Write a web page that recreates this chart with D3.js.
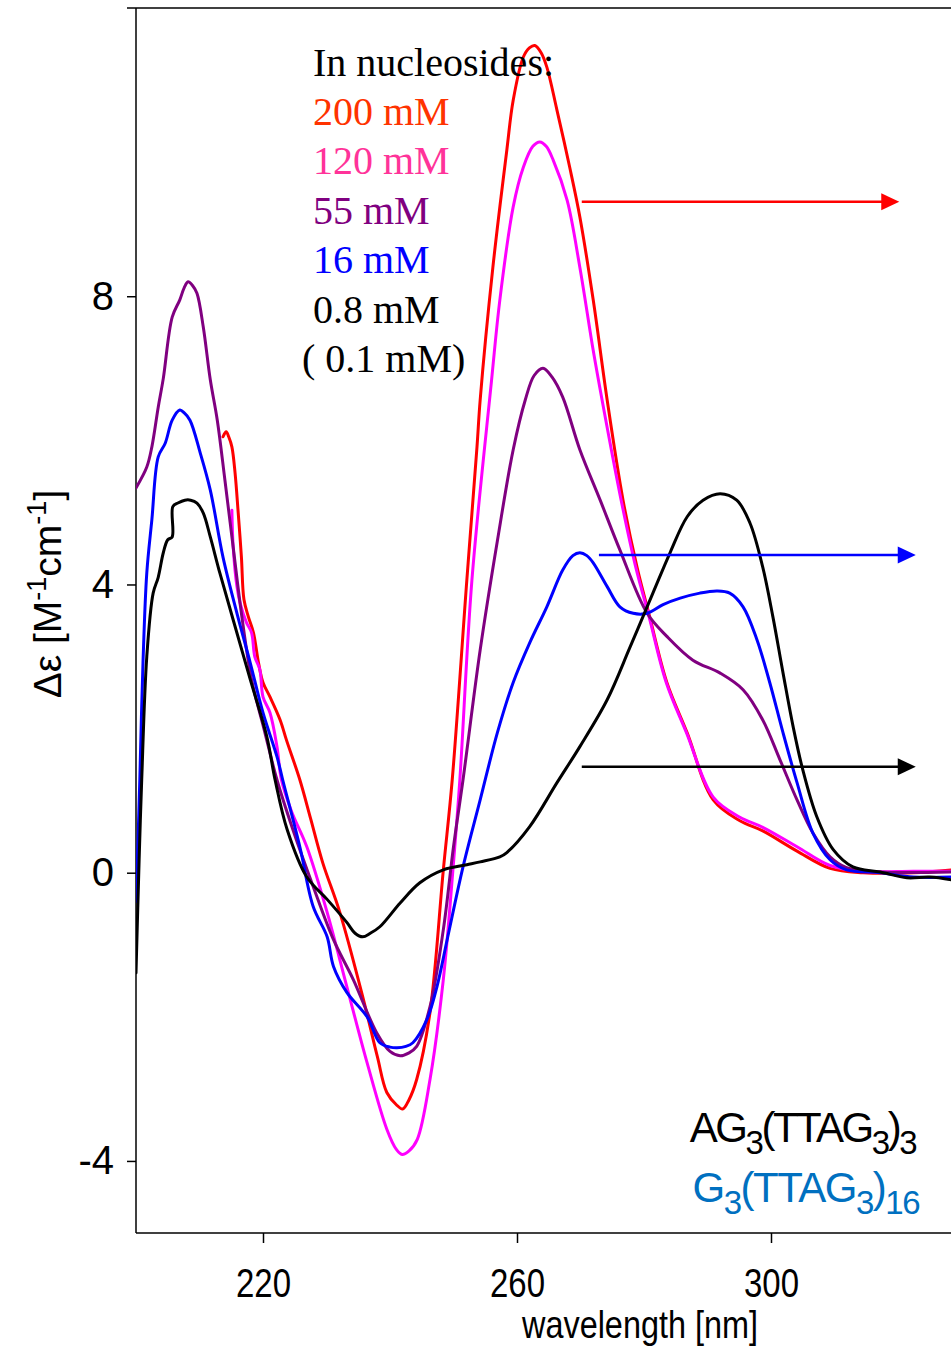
<!DOCTYPE html>
<html>
<head>
<meta charset="utf-8">
<script src="https://cdn.jsdelivr.net/npm/d3@7"></script>
<style>
  html, body { margin: 0; padding: 0; background: #fff; }
  svg { display: block; }
</style>
</head>
<body>
<svg id="chart" width="951" height="1349"></svg>
<script>
// ---------- DATA (wavelength nm, delta-epsilon) ----------
const xTicks = [220, 260, 300];
const yTicks = [-4, 0, 4, 8];

const series200 = [
  [213.7,6.05],[214.2,6.12],[214.6,6.05],[215.1,5.91],[215.6,5.55],[216.1,4.99],[216.6,4.38],
  [217.0,3.79],[217.7,3.55],[218.5,3.33],[219.3,2.91],[220.0,2.64],[221.1,2.44],[222.7,2.12],
  [223.7,1.84],[225.8,1.29],[227.5,0.75],[229.4,0.14],[232.1,-0.55],[235.7,-1.72],[238.0,-2.55],
  [239.5,-3.05],[241.0,-3.22],[242.0,-3.28],[243.0,-3.15],[244.2,-2.87],[246.3,-1.94],[248.4,0.04],
  [249.8,1.29],[252.1,4.06],[253.7,5.91],[254.2,6.56],[256.2,8.40],[258.4,10.03],[259.4,10.72],
  [261.0,11.32],[262.0,11.45],[262.8,11.48],[263.8,11.38],[264.7,11.18],[266.3,10.58],[268.3,9.79],
  [269.9,9.10],[272.0,7.95],[274.2,6.56],[276.7,5.17],[278.9,4.24],[280.9,3.55],[283.6,2.64],
  [286.8,1.94],[290.9,1.01],[295.1,0.72],[298.7,0.58],[304.1,0.30],[309.3,0.06],[314.5,0.0],
  [322.4,0.0],[328.5,0.04]
];

const series120 = [
  [215.1,5.03],[215.3,4.53],[215.9,3.97],[216.4,3.74],[217.4,3.47],[218.2,3.33],[218.7,3.00],
  [219.5,2.82],[220.0,2.44],[221.1,2.22],[222.2,1.75],[222.9,1.29],[224.5,0.85],[226.9,0.36],
  [230.1,-0.55],[233.2,-1.58],[236.4,-2.64],[239.5,-3.56],[241.0,-3.84],[241.9,-3.91],[243.0,-3.86],
  [244.3,-3.70],[246.3,-2.87],[248.4,-1.48],[250.0,0.14],[251.0,1.29],[252.9,4.06],[256.0,6.84],
  [257.3,7.95],[259.4,9.24],[261.0,9.79],[262.5,10.08],[263.6,10.14],[264.6,10.08],[265.7,9.89],
  [267.9,9.33],[269.9,8.40],[272.0,7.25],[273.4,6.56],[276.4,5.17],[278.7,4.24],[280.8,3.55],
  [283.5,2.64],[286.7,1.94],[290.9,1.05],[295.1,0.77],[298.7,0.63],[304.1,0.36],[309.3,0.10],
  [314.5,0.02],[322.4,0.02],[328.5,0.02]
];

const series55 = [
  [200.0,5.34],[201.7,5.63],[202.5,5.91],[203.5,6.46],[204.3,6.86],[205.7,7.71],[206.9,7.95],
  [207.6,8.12],[208.2,8.20],[208.9,8.15],[209.6,8.04],[210.6,7.57],[211.7,6.84],[212.8,6.28],
  [214.0,5.45],[215.3,4.52],[216.6,3.60],[218.2,2.68],[220.2,1.98],[222.2,1.29],[224.7,0.60],
  [227.9,-0.19],[231.1,-0.93],[234.2,-1.48],[237.9,-2.22],[240.0,-2.48],[241.6,-2.54],
  [243.0,-2.50],[244.2,-2.41],[246.3,-1.86],[248.4,-0.79],[250.0,0.36],[251.5,1.29],
  [254.2,3.09],[256.9,4.60],[259.4,5.87],[261.3,6.56],[262.7,6.90],
  [264.1,7.00],[265.5,6.88],[267.2,6.60],[269.9,5.87],[273.1,5.17],[276.2,4.48],[280.5,3.60],
  [283.6,3.28],[287.7,2.95],[292.0,2.77],[295.6,2.54],[298.7,2.12],[301.4,1.57],[304.1,1.01],
  [306.6,0.55],[309.3,0.22],[311.9,0.07],[317.2,0.01],[328.5,0.01]
];

const series16 = [
  [200.0,-0.40],[200.3,0.40],[200.6,1.29],[201.1,2.91],[201.7,4.16],[202.5,4.90],[203.5,5.77],
  [204.6,5.96],[205.7,6.28],[206.9,6.42],[207.6,6.38],[208.5,6.28],[210.1,5.83],[211.7,5.31],
  [213.7,4.38],[215.9,3.60],[218.0,2.91],[220.0,2.22],[222.2,1.61],[223.1,1.29],[225.8,0.36],
  [227.9,-0.47],[230.1,-0.89],[231.1,-1.30],[233.2,-1.66],[236.4,-2.00],[238.4,-2.36],[240.0,-2.42],
  [241.1,-2.43],[242.5,-2.41],[243.6,-2.36],[245.8,-2.04],[247.4,-1.58],[249.0,-0.93],[251.5,0.08],
  [254.2,1.01],[256.9,1.94],[259.4,2.64],[262.0,3.19],[264.7,3.69],[267.2,4.20],[268.8,4.40],
  [269.9,4.44],[271.0,4.40],[272.0,4.30],[274.2,3.97],[276.2,3.69],[278.3,3.60],[280.5,3.60],
  [283.0,3.72],[285.7,3.81],[288.8,3.88],[291.5,3.91],[293.5,3.88],[295.6,3.69],[297.8,3.23],
  [299.8,2.64],[301.9,1.94],[304.1,1.25],[306.6,0.55],[309.3,0.18],[311.9,0.04],[317.2,0.0],
  [322.4,-0.06],[328.5,-0.06]
];

const series08 = [
  [200.0,-1.39],[200.5,0.20],[200.9,1.29],[201.7,3.00],[202.7,3.88],[203.5,4.10],[204.3,4.44],
  [205.0,4.62],[205.7,4.66],[205.8,5.08],[206.6,5.13],[207.7,5.17],[208.6,5.17],[209.6,5.13],
  [210.6,4.99],[211.7,4.66],[213.2,4.16],[215.3,3.51],[218.0,2.68],[220.6,1.89],[221.9,1.29],
  [223.8,0.60],[226.9,-0.06],[230.1,-0.37],[233.2,-0.69],[234.5,-0.84],[235.7,-0.89],[236.9,-0.84],
  [238.4,-0.75],[241.6,-0.42],[244.7,-0.14],[248.4,0.04],[252.1,0.11],[254.2,0.15],[257.3,0.22],
  [258.4,0.28],[262.0,0.64],[266.3,1.25],[269.9,1.75],[274.2,2.40],[277.8,3.13],[281.4,3.88],
  [284.1,4.44],[286.8,4.94],[289.3,5.17],[292.0,5.26],[294.6,5.17],[296.7,4.85],[298.7,4.24],
  [300.3,3.55],[301.9,2.77],[303.5,2.02],[305.0,1.43],[307.2,0.78],[309.8,0.32],[312.9,0.08],
  [317.2,0.01],[321.4,-0.07],[325.0,-0.06],[328.5,-0.10]
];

const seriesNames  = ["200 mM", "120 mM", "55 mM", "16 mM", "0.8 mM"];
const seriesData   = [series200, series120, series55, series16, series08];
const lineColors   = ["#FF0000", "#FF00FF", "#800080", "#0000FF", "#000000"];
const legendColors = ["#FF3300", "#FF3399", "#800080", "#0000FF", "#000000"];

// arrows: start wavelength, end wavelength, value
const arrowStart = [270.2, 272.9, 270.2];
const arrowEnd   = [320.2, 322.8, 322.8];
const arrowValue = [9.31, 4.41, 1.47];
const arrowColors = ["#FF0000", "#0000FF", "#000000"];

// ---------- LAYOUT ----------
const svg = d3.select("#chart");
const mLeft = 136, mTop = 8, mBottom = 1233, mRight = 951;

const x = d3.scaleLinear().domain([200, 330]).range([mLeft, mLeft + 130 * 6.35]);
const y = d3.scaleLinear().domain([-5, 12]).range([mBottom, mTop]);

svg.append("defs").append("clipPath").attr("id", "plotclip")
  .append("rect").attr("x", mLeft).attr("y", mTop).attr("width", mRight - mLeft).attr("height", mBottom - mTop);

// frame lines
svg.append("line").attr("x1", 127).attr("x2", mRight).attr("y1", mTop).attr("y2", mTop)
  .attr("stroke", "#000").attr("stroke-width", 1.5);
svg.append("line").attr("x1", mLeft).attr("x2", mLeft).attr("y1", mTop).attr("y2", mBottom)
  .attr("stroke", "#000").attr("stroke-width", 1.5);
svg.append("line").attr("x1", mLeft).attr("x2", mRight).attr("y1", mBottom).attr("y2", mBottom)
  .attr("stroke", "#000").attr("stroke-width", 1.5);

// axes
const xAxis = d3.axisBottom(x).tickValues(xTicks).tickSize(10).tickSizeOuter(0).tickPadding(26);
const gx = svg.append("g").attr("transform", `translate(0,${mBottom})`).call(xAxis);
gx.select(".domain").remove();
gx.selectAll(".tick line").attr("stroke", "#000").attr("stroke-width", 1.5);
gx.selectAll(".tick text")
  .attr("font-family", "Liberation Sans, Arial, sans-serif").attr("font-size", 40)
  .attr("fill", "#000").attr("textLength", 55).attr("lengthAdjust", "spacingAndGlyphs");

const yAxis = d3.axisLeft(y).tickValues(yTicks).tickSize(9).tickSizeOuter(0).tickPadding(13)
  .tickFormat(d => String(d));
const gy = svg.append("g").attr("transform", `translate(${mLeft},0)`).call(yAxis);
gy.select(".domain").remove();
gy.selectAll(".tick line").attr("stroke", "#000").attr("stroke-width", 1.5);
gy.selectAll(".tick text")
  .attr("font-family", "Liberation Sans, Arial, sans-serif").attr("font-size", 40).attr("fill", "#000");

// axis titles
svg.append("text").attr("x", 640).attr("y", 1338).attr("text-anchor", "middle")
  .attr("font-family", "Liberation Sans, Arial, sans-serif").attr("font-size", 39)
  .attr("textLength", 236).attr("lengthAdjust", "spacingAndGlyphs")
  .text("wavelength [nm]");

const yt = svg.append("text").attr("transform", "translate(61,594) rotate(-90)")
  .attr("text-anchor", "middle")
  .attr("font-family", "Liberation Sans, Arial, sans-serif").attr("font-size", 39);
yt.append("tspan").text("Δε [M");
yt.append("tspan").attr("dy", -15).attr("font-size", 27).text("-1");
yt.append("tspan").attr("dy", 15).text("cm");
yt.append("tspan").attr("dy", -15).attr("font-size", 27).text("-1");
yt.append("tspan").attr("dy", 15).text("]");

// curves
const line = d3.line()
  .x(d => x(d[0])).y(d => y(d[1]))
  .curve(d3.curveCatmullRom.alpha(0.5));

const plot = svg.append("g").attr("clip-path", "url(#plotclip)");
seriesData.forEach((s, i) => {
  plot.append("path").datum(s).attr("d", line)
    .attr("fill", "none").attr("stroke", lineColors[i]).attr("stroke-width", 3)
    .attr("stroke-linejoin", "round").attr("stroke-linecap", "round");
});

// arrows
arrowValue.forEach((v, i) => {
  const x1 = x(arrowStart[i]), x2 = x(arrowEnd[i]), yy = y(v);
  svg.append("line").attr("x1", x1).attr("x2", x2 - 14).attr("y1", yy).attr("y2", yy)
    .attr("stroke", arrowColors[i]).attr("stroke-width", 2.5);
  svg.append("path")
    .attr("d", `M${x2},${yy} L${x2 - 18},${yy - 8.5} L${x2 - 18},${yy + 8.5} Z`)
    .attr("fill", arrowColors[i]);
});

// legend (serif)
const lg = svg.append("g").attr("font-family", "Liberation Serif, Times New Roman, serif").attr("font-size", 40);
lg.append("text").attr("x", 313).attr("y", 76).attr("fill", "#000").text("In nucleosides:");
seriesNames.forEach((n, i) => {
  lg.append("text").attr("x", 313).attr("y", 125 + i * 49.4).attr("fill", legendColors[i]).text(n);
});
lg.append("text").attr("x", 302).attr("y", 125 + 5 * 49.4).attr("fill", "#000").text("( 0.1 mM)");

// sequence labels
function seqLabel(parts, xEnd, yBase, color, ls) {
  const t = svg.append("text").attr("x", xEnd).attr("y", yBase).attr("text-anchor", "end")
    .attr("font-family", "Liberation Sans, Arial, sans-serif").attr("font-size", 42)
    .attr("fill", color).attr("letter-spacing", ls);
  let sub = false;
  parts.forEach(p => {
    const isSub = !!p.sub;
    const ts = t.append("tspan").text(p.t);
    if (isSub) ts.attr("font-size", 33);
    if (isSub && !sub) ts.attr("dy", 12);
    else if (!isSub && sub) ts.attr("dy", -12);
    sub = isSub;
  });
  return t;
}
seqLabel([{t:"AG"},{t:"3",sub:true},{t:"(TTAG"},{t:"3",sub:true},{t:")"},{t:"3",sub:true}], 915, 1142, "#000000", -2.5);
seqLabel([{t:"G"},{t:"3",sub:true},{t:"(TTAG"},{t:"3",sub:true},{t:")"},{t:"16",sub:true}], 919, 1202, "#0070C0", -1.5);
</script>
</body>
</html>
